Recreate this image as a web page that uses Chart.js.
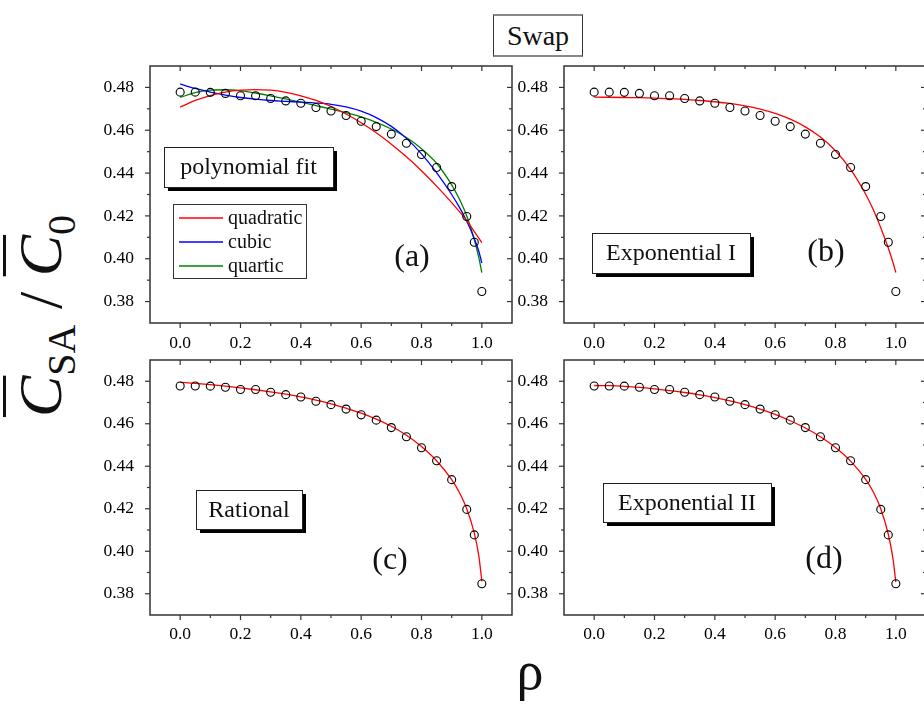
<!DOCTYPE html>
<html>
<head>
<meta charset="utf-8">
<script src="https://cdn.jsdelivr.net/npm/chart.js@4.4.0/dist/chart.umd.min.js"></script>
<style>
  html, body { margin: 0; padding: 0; background: #fff; width: 924px; height: 704px; overflow: hidden; }
  canvas { position: absolute; }
  #swap { position: absolute; left: 493px; top: 14px; width: 88px; height: 39px; border: 1px solid #333;
          border-top: 2px solid #888; border-bottom: 2px solid #888; font: 28px "Liberation Serif"; color: #111;
          text-align: center; line-height: 39px; }
  #ytitle { position: absolute; left: -80px; top: 276px; width: 240px; height: 80px; transform: rotate(-90deg);
            font: 62px "Liberation Serif"; color: #111; text-align: center; line-height: 80px; white-space: nowrap; }
  #ytitle i { text-decoration: overline; text-decoration-thickness: 3px; }
  #ytitle sub { font-size: 40px; vertical-align: -14px; }
  #xtitle { position: absolute; left: 490px; top: 640px; width: 80px; text-align: center;
            font: 54px "Liberation Serif"; color: #111; }
</style>
</head>
<body>
<div id="swap">Swap</div>
<div id="ytitle"><i>C</i><sub>SA</sub> / <i>C</i><sub>0</sub></div>
<div id="xtitle">ρ</div>
<canvas id="pa" width="430" height="300" style="left:90px;top:56px"></canvas>
<canvas id="pb" width="430" height="300" style="left:504px;top:56px"></canvas>
<canvas id="pc" width="430" height="300" style="left:90px;top:350px"></canvas>
<canvas id="pd" width="430" height="300" style="left:504px;top:350px"></canvas>
<script>
// measured points
const rho = [0, 0.05, 0.1, 0.15, 0.2, 0.25, 0.3, 0.35, 0.4, 0.45, 0.5, 0.55, 0.6, 0.65, 0.7, 0.75, 0.8, 0.85, 0.9, 0.95, 0.975, 1.0];
const cRatio = [0.4778, 0.4778, 0.4777, 0.4772, 0.4761, 0.4761, 0.4748, 0.4737, 0.4726, 0.4706, 0.4690, 0.4669,
                0.4642, 0.4617, 0.4582, 0.4539, 0.4487, 0.4426, 0.4337, 0.4197, 0.4077, 0.3847];

// fitted curves
const fitX = [0, 0.05, 0.1, 0.15, 0.2, 0.25, 0.3, 0.35, 0.4, 0.45, 0.5, 0.55, 0.6, 0.65, 0.7, 0.75, 0.8, 0.85, 0.9, 0.925, 0.95, 0.975, 0.99, 1.0];
const quadratic = [0.4708, 0.4739, 0.4762, 0.4778, 0.4787, 0.4790, 0.4787, 0.4777, 0.4761, 0.4739, 0.4711, 0.4676,
                   0.4635, 0.4588, 0.4535, 0.4476, 0.4411, 0.4339, 0.4262, 0.4221, 0.4178, 0.4127, 0.4096, 0.4075];
const cubic = [0.4816, 0.4795, 0.4778, 0.4764, 0.4753, 0.4745, 0.4739, 0.4735, 0.4731, 0.4727, 0.4721, 0.4709,
               0.4689, 0.4659, 0.4618, 0.4562, 0.4490, 0.4402, 0.4300, 0.4242, 0.4175, 0.4095, 0.4035, 0.3980];
const quartic = [0.4753, 0.4776, 0.4787, 0.4789, 0.4784, 0.4774, 0.4761, 0.4746, 0.4731, 0.4715, 0.4699, 0.4682,
                 0.4662, 0.4637, 0.4606, 0.4566, 0.4514, 0.4446, 0.4345, 0.4280, 0.4200, 0.4090, 0.4005, 0.3935];
const expI = [0.4755, 0.4754, 0.4753, 0.4752, 0.4750, 0.4747, 0.4744, 0.4739, 0.4733, 0.4725, 0.4714, 0.4699,
              0.4679, 0.4652, 0.4616, 0.4568, 0.4504, 0.4417, 0.4301, 0.4230, 0.4145, 0.4050, 0.3985, 0.3936];
const rational = [0.4795, 0.4790, 0.4784, 0.4777, 0.4769, 0.4760, 0.4750, 0.4739, 0.4726, 0.4711, 0.4694, 0.4673,
                  0.4650, 0.4622, 0.4588, 0.4546, 0.4493, 0.4426, 0.4337, 0.4278, 0.4200, 0.4085, 0.3978, 0.3858];
const expII = [0.4780, 0.4779, 0.4776, 0.4771, 0.4764, 0.4756, 0.4747, 0.4736, 0.4723, 0.4708, 0.4690, 0.4669,
               0.4644, 0.4614, 0.4580, 0.4539, 0.4488, 0.4424, 0.4338, 0.4280, 0.4200, 0.4080, 0.3970, 0.3855];

// axes
const xTicks = [0, 0.2, 0.4, 0.6, 0.8, 1.0];
const xMinor = [0.1, 0.3, 0.5, 0.7, 0.9];
const yTicks = [0.38, 0.40, 0.42, 0.44, 0.46, 0.48];
const yMinor = [0.39, 0.41, 0.43, 0.45, 0.47];

const serif = '"Liberation Serif", "Times New Roman", serif';
const axisColor = '#333';

// frame with mirrored axes and ticks
const framePlugin = {
  id: 'frame',
  afterDraw(chart) {
    const { ctx, chartArea: a } = chart;
    const x = chart.scales.x, y = chart.scales.y;
    ctx.save();
    ctx.strokeStyle = axisColor;
    ctx.lineWidth = 1.5;
    ctx.strokeRect(a.left, a.top, a.right - a.left, a.bottom - a.top);
    ctx.lineWidth = 1.2;
    const seg = (x1, y1, x2, y2) => { ctx.beginPath(); ctx.moveTo(x1, y1); ctx.lineTo(x2, y2); ctx.stroke(); };
    const xt = (v, len) => {
      const p = x.getPixelForValue(v);
      seg(p, a.bottom, p, a.bottom + len);
      seg(p, a.top, p, a.top + len);
    };
    const yt = (v, len) => {
      const p = y.getPixelForValue(v);
      seg(a.left, p, a.left - len, p);
      seg(a.right, p, a.right - len, p);
    };
    xTicks.forEach(v => xt(v, 5));
    xMinor.forEach(v => xt(v, 3));
    yTicks.forEach(v => yt(v, 5));
    yMinor.forEach(v => yt(v, 3));
    ctx.restore();
  }
};

// text boxes, panel letters, legend
const notesPlugin = {
  id: 'notes',
  afterDatasetsDraw(chart, args, opts) {
    const { ctx, chartArea: a } = chart;
    ctx.save();
    (opts.items || []).forEach(it => {
      const x0 = a.left + it.dx, y0 = a.top + it.dy;
      if (it.kind === 'box') {
        ctx.fillStyle = '#000';
        ctx.fillRect(x0 + 4, y0 + 4, it.w, it.h);
        ctx.fillStyle = '#fff';
        ctx.fillRect(x0, y0, it.w, it.h);
        ctx.strokeStyle = '#222';
        ctx.lineWidth = 1;
        ctx.strokeRect(x0 + 0.5, y0 + 0.5, it.w, it.h);
        ctx.fillStyle = '#111';
        ctx.font = '24px ' + serif;
        ctx.textAlign = 'center';
        ctx.textBaseline = 'middle';
        ctx.fillText(it.text, x0 + it.w / 2, y0 + it.h / 2 + 1);
      } else if (it.kind === 'label') {
        ctx.fillStyle = '#111';
        ctx.font = '32px ' + serif;
        ctx.textAlign = 'center';
        ctx.textBaseline = 'middle';
        ctx.fillText(it.text, x0, y0);
      } else if (it.kind === 'legend') {
        ctx.fillStyle = '#fff';
        ctx.fillRect(x0, y0, it.w, it.h);
        ctx.strokeStyle = '#333';
        ctx.lineWidth = 1;
        ctx.strokeRect(x0 + 0.5, y0 + 0.5, it.w, it.h);
        ctx.font = '20px ' + serif;
        ctx.textAlign = 'left';
        ctx.textBaseline = 'middle';
        it.entries.forEach((e, i) => {
          const ly = y0 + 14 + i * 24;
          ctx.strokeStyle = e.color;
          ctx.lineWidth = 1.3;
          ctx.beginPath(); ctx.moveTo(x0 + 6, ly); ctx.lineTo(x0 + 50, ly); ctx.stroke();
          ctx.fillStyle = '#111';
          ctx.fillText(e.label, x0 + 55, ly + 1);
        });
      }
    });
    ctx.restore();
  }
};

function makePanel(id, fits, items, axisH, labelPad) {
  const datasets = [{
    label: 'data',
    data: rho.map((r, i) => ({ x: r, y: cRatio[i] })),
    showLine: false,
    pointStyle: 'circle',
    pointRadius: 4,
    pointBorderWidth: 1.1,
    pointBorderColor: '#000',
    pointBackgroundColor: 'rgba(0,0,0,0)'
  }];
  fits.forEach(f => datasets.push({
    label: f.label,
    data: fitX.map((r, i) => ({ x: r, y: f.values[i] })),
    showLine: true,
    pointRadius: 0,
    borderColor: f.color,
    borderWidth: 1.3,
    cubicInterpolationMode: 'monotone'
  }));

  new Chart(document.getElementById(id), {
    type: 'scatter',
    data: { datasets },
    options: {
      responsive: false,
      animation: false,
      layout: { padding: { top: 10, right: 8, left: 0, bottom: 0 } },
      plugins: { legend: { display: false }, tooltip: { enabled: false }, notes: { items } },
      scales: {
        x: {
          type: 'linear', min: -0.1, max: 1.1,
          grid: { display: false }, border: { display: false },
          afterBuildTicks: s => { s.ticks = xTicks.map(v => ({ value: v })); },
          afterFit: s => { s.height = axisH; s.paddingLeft = 0; s.paddingRight = 0; },
          ticks: { padding: labelPad, color: '#000', font: { family: serif, size: 17.5 }, callback: v => v.toFixed(1) }
        },
        y: {
          type: 'linear', min: 0.37, max: 0.49,
          grid: { display: false }, border: { display: false },
          afterBuildTicks: s => { s.ticks = yTicks.map(v => ({ value: v })); },
          afterFit: s => { s.width = 60; s.paddingTop = 0; s.paddingBottom = 0; },
          ticks: { padding: 8, color: '#000', font: { family: serif, size: 17.5 }, callback: v => v.toFixed(2) }
        }
      }
    },
    plugins: [framePlugin, notesPlugin]
  });
}

makePanel('pa', [
  { label: 'quadratic', values: quadratic, color: '#ff0000' },
  { label: 'cubic', values: cubic, color: '#0000ff' },
  { label: 'quartic', values: quartic, color: '#008000' }
], [
  { kind: 'box', text: 'polynomial fit', dx: 14, dy: 81, w: 169, h: 40 },
  { kind: 'legend', dx: 23, dy: 138, w: 133, h: 74, entries: [
    { label: 'quadratic', color: '#ff0000' },
    { label: 'cubic', color: '#0000ff' },
    { label: 'quartic', color: '#008000' }] },
  { kind: 'label', text: '(a)', dx: 262, dy: 192 }
], 33, 2);

makePanel('pb', [{ label: 'Exponential I', values: expI, color: '#ff0000' }], [
  { kind: 'box', text: 'Exponential I', dx: 28, dy: 167, w: 158, h: 40 },
  { kind: 'label', text: '(b)', dx: 262, dy: 187 }
], 33, 2);

makePanel('pc', [{ label: 'Rational', values: rational, color: '#ff0000' }], [
  { kind: 'box', text: 'Rational', dx: 46, dy: 130, w: 106, h: 39 },
  { kind: 'label', text: '(c)', dx: 240, dy: 201 }
], 35, 1);

makePanel('pd', [{ label: 'Exponential II', values: expII, color: '#ff0000' }], [
  { kind: 'box', text: 'Exponential II', dx: 39, dy: 123, w: 168, h: 39 },
  { kind: 'label', text: '(d)', dx: 260, dy: 200 }
], 35, 1);
</script>
</body>
</html>
